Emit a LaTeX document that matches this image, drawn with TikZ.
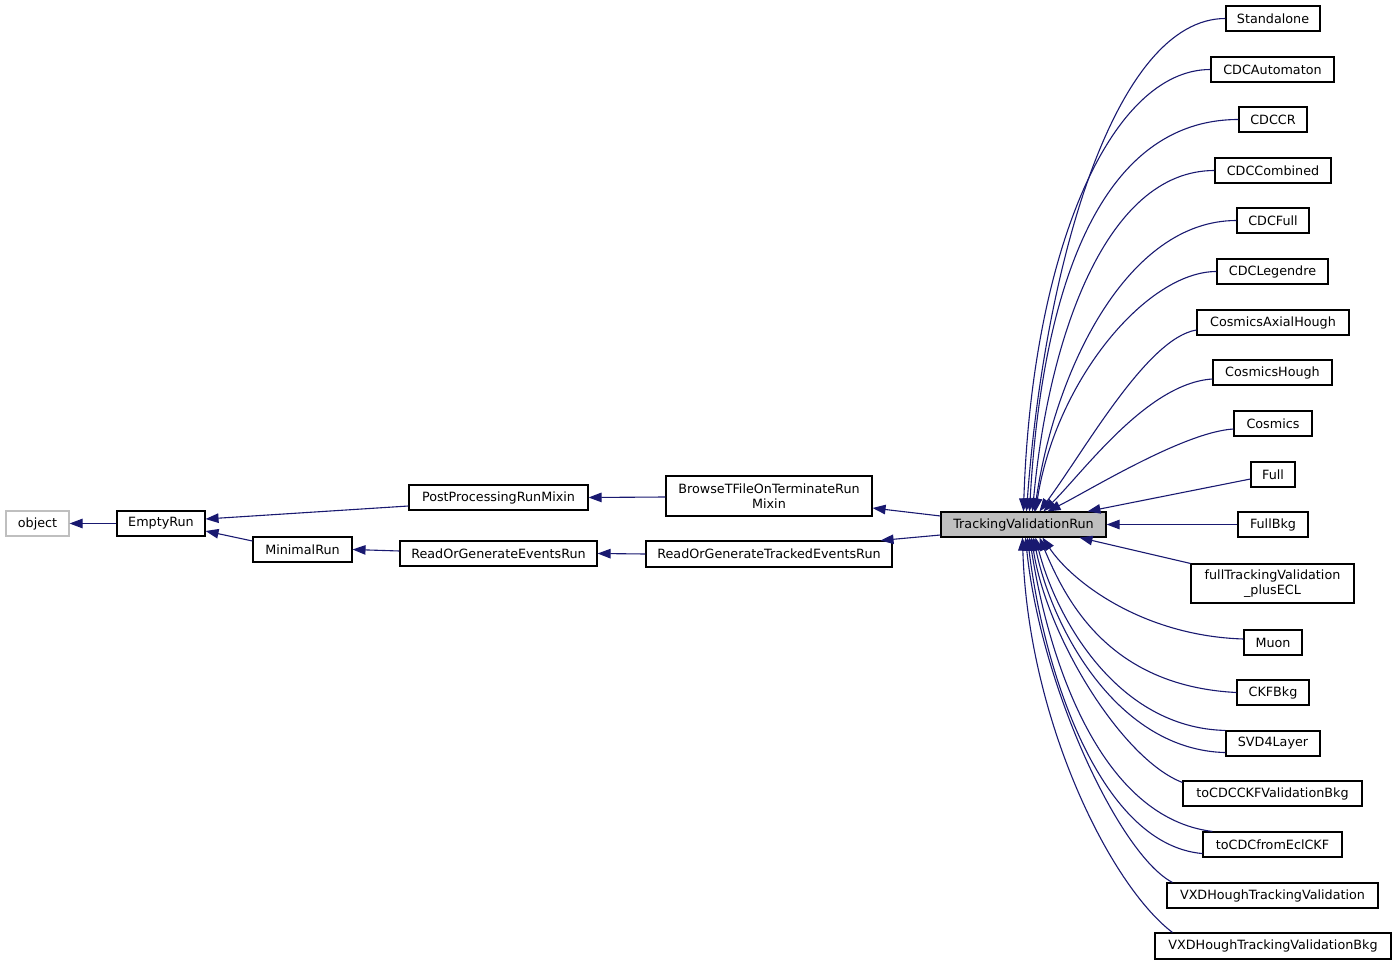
\documentclass[tikz,border=0pt]{standalone}
\usepackage{fontspec}
\setmainfont{DejaVu Sans}
\usetikzlibrary{arrows.meta}
\definecolor{edgeblue}{HTML}{191970}
\definecolor{nodegray}{HTML}{BFBFBF}
\begin{document}
\begin{tikzpicture}[x=1pt,y=-1pt,
  box/.style={draw=black, line width=1.1pt, fill=white, inner sep=0pt, minimum height=25pt,
    font=\fontsize{12.75}{15.5}\selectfont, align=center},
  edge/.style={draw=edgeblue, line width=1.1pt, -{Triangle[length=13pt,width=9.5pt]}},
]
\path[use as bounding box] (0,0) rectangle (1397,965);

% left part
\node[box, draw=nodegray, minimum width=63pt] (obj) at (37.5,523.5) {object};
\node[box, minimum width=88pt] (er) at (161,523.5) {EmptyRun};
\node[box, minimum width=99pt] (mr) at (302.5,549.5) {MinimalRun};
\node[box, minimum width=179pt] (pprm) at (498.5,497.5) {PostProcessingRunMixin};
\node[box, minimum width=197pt] (roger) at (498.5,553.5) {ReadOrGenerateEventsRun};
\node[box, minimum width=206pt, minimum height=40pt] (btf) at (769,496) {BrowseTFileOnTerminateRun\\Mixin};
\node[box, minimum width=246pt, minimum height=26pt] (rogter) at (769,554) {ReadOrGenerateTrackedEventsRun};
\node[box, fill=nodegray, minimum width=165pt] (tvr) at (1023.5,524.5) {TrackingValidationRun};

% right column
\node[box, minimum width=94pt] (sa) at (1273,18.5) {Standalone};
\node[box, minimum width=123pt] (cdca) at (1272.5,69.5) {CDCAutomaton};
\node[box, minimum width=68pt] (cdccr) at (1273,119.5) {CDCCR};
\node[box, minimum width=116pt] (cdccomb) at (1273,170.5) {CDCCombined};
\node[box, minimum width=72pt] (cdcfull) at (1273,220.5) {CDCFull};
\node[box, minimum width=111pt] (cdcleg) at (1272.5,271.5) {CDCLegendre};
\node[box, minimum width=152pt] (cah) at (1273,322.5) {CosmicsAxialHough};
\node[box, minimum width=119pt] (ch) at (1272.5,372.5) {CosmicsHough};
\node[box, minimum width=78pt] (cos) at (1273,423.5) {Cosmics};
\node[box, minimum width=44pt] (full) at (1273,474.5) {Full};
\node[box, minimum width=70pt] (fbkg) at (1273,524.5) {FullBkg};
\node[box, minimum width=163pt, minimum height=39pt] (ftv) at (1272.5,583.5) {fullTrackingValidation\\\_plusECL};
\node[box, minimum width=58pt] (muon) at (1273,642.5) {Muon};
\node[box, minimum width=72pt] (ckf) at (1273,692.5) {CKFBkg};
\node[box, minimum width=94pt] (svd) at (1273,743.5) {SVD4Layer};
\node[box, minimum width=179pt] (tck) at (1272.5,793.5) {toCDCCKFValidationBkg};
\node[box, minimum width=139pt] (tfe) at (1272.5,844.5) {toCDCfromEclCKF};
\node[box, minimum width=211pt] (vhtv) at (1272.5,895.5) {VXDHoughTrackingValidation};
\node[box, minimum width=236pt, minimum height=26pt] (vhtvb) at (1273,946) {VXDHoughTrackingValidationBkg};

% left edges
\draw[edge] (er.west) -- (obj.east);
\draw[edge] ([yshift=-8.5pt]pprm.west) -- ([yshift=4.5pt]er.east);
\draw[edge] ([yshift=8.5pt]mr.west) -- ([yshift=-7.5pt]er.east);
\draw[edge] ([yshift=2.5pt]roger.west) -- (mr.east);
\draw[edge] ([yshift=-1pt]btf.west) -- (pprm.east);
\draw[edge] (rogter.west) -- (roger.east);
\draw[edge] ([yshift=8.5pt]tvr.west) -- ([yshift=-12pt]btf.east);
\draw[edge] ([yshift=-10.5pt]tvr.west) -- ([xshift=-12pt]rogter.north east);

% right edges, upper group
\draw[edge] (sa.west) .. controls (1116,18.5) and (1045,260) .. ([xshift=86pt]tvr.north west);
\draw[edge] (cdca.west) .. controls (1111,69.5) and (1032,250) .. ([xshift=83pt]tvr.north west);
\draw[edge] (cdccr.west) .. controls (1099,119.5) and (1042,290) .. ([xshift=89pt]tvr.north west);
\draw[edge] (cdccomb.west) .. controls (1105,170.5) and (1048,340) .. ([xshift=92pt]tvr.north west);
\draw[edge] (cdcfull.west) .. controls (1127,220.5) and (1055,370) .. ([xshift=94pt]tvr.north west);
\draw[edge] (cdcleg.west) .. controls (1147,271.5) and (1056,380) .. ([xshift=95pt]tvr.north west);
\draw[edge] ([yshift=-7.5pt]cah.west) .. controls (1147,338) and (1085,450) .. ([xshift=99pt]tvr.north west);
\draw[edge] ([yshift=-6.5pt]ch.west) .. controls (1148,383) and (1085,470) .. ([xshift=103pt]tvr.north west);
\draw[edge] ([yshift=-5.5pt]cos.west) .. controls (1184,432) and (1090,490) .. ([xshift=107pt]tvr.north west);
\draw[edge] ([yshift=-4.5pt]full.west) -- ([xshift=147pt]tvr.north west);
\draw[edge] (fbkg.west) -- (tvr.east);

% right edges, lower group
\draw[edge] (ftv.north west) -- ([xshift=139pt]tvr.south west);
\draw[edge] ([yshift=3.5pt]muon.west) .. controls (1144,636) and (1073,583) .. ([xshift=102pt]tvr.south west);
\draw[edge] (ckf.west) .. controls (1107,686) and (1065,598) .. ([xshift=99pt]tvr.south west);
\draw[edge] (svd.north west) .. controls (1117,728) and (1056,618) .. ([xshift=95pt]tvr.south west);
\draw[edge] ([yshift=4pt]svd.south west) .. controls (1117,750) and (1052,628) .. ([xshift=93pt]tvr.south west);
\draw[edge] ([yshift=-2pt]tck.north west) .. controls (1123,760) and (1047,638) .. ([xshift=91pt]tvr.south west);
\draw[edge] ([xshift=10pt]tfe.north west) .. controls (1103,818) and (1050,668) .. ([xshift=89pt]tvr.south west);
\draw[edge] ([yshift=4pt]tfe.south west) .. controls (1103,845) and (1045,680) .. ([xshift=87pt]tvr.south west);
\draw[edge] ([xshift=6pt]vhtv.north west) .. controls (1120,855) and (1041,688) .. ([xshift=85pt]tvr.south west);
\draw[edge] ([xshift=18pt]vhtvb.north west) .. controls (1110,885) and (1028,720) .. ([xshift=82pt]tvr.south west);
\end{tikzpicture}
\end{document}
